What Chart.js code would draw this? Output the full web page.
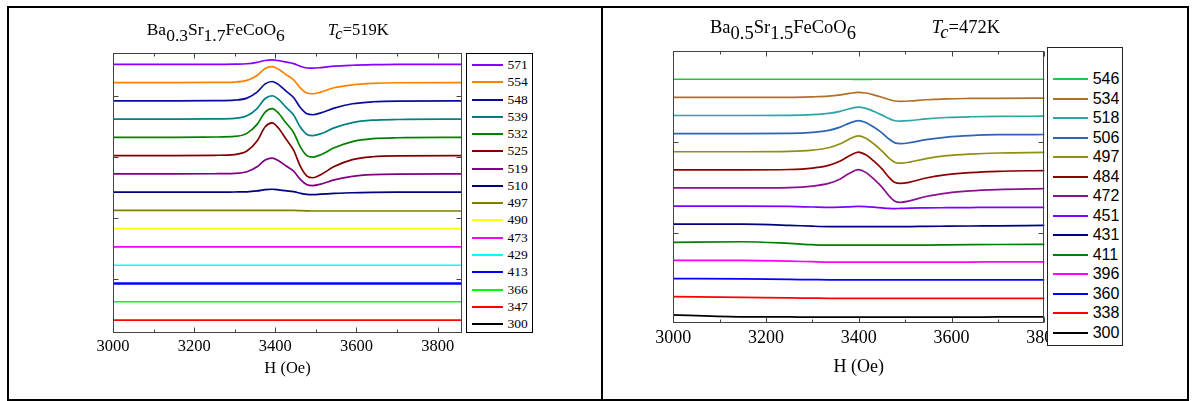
<!DOCTYPE html>
<html><head><meta charset="utf-8">
<script src="https://cdn.jsdelivr.net/npm/chart.js@4.4.1/dist/chart.umd.min.js"></script>
<style>
html,body{margin:0;padding:0;background:#fff;width:1195px;height:401px;overflow:hidden;position:relative;}
.frame{position:absolute;left:7px;top:6px;width:1182px;height:395px;border:2px solid #000;box-sizing:border-box;}
.divider{position:absolute;left:601px;top:6px;width:2px;height:395px;background:#000;}
canvas{position:absolute;}
.title{position:absolute;font-family:'Liberation Serif','Times New Roman',serif;color:#000;white-space:nowrap;}
.sub{position:relative;}
.legend{position:absolute;background:#fff;box-sizing:border-box;}
.entry{position:absolute;left:0;display:flex;align-items:center;white-space:nowrap;color:#000;}
.entry span.ln{display:inline-block;height:2px;}
</style></head>
<body>
<div class="frame"></div>
<div class="divider"></div>
<canvas id="c1" width="590" height="385" style="left:10px;top:10px;width:590px;height:385px"></canvas>
<canvas id="c2" width="580" height="385" style="left:605px;top:10px;width:580px;height:385px"></canvas>

<div class="title" style="left:146.7px;top:21.3px;font-size:17.5px;line-height:17.5px">Ba<span class="sub" style="top:5.5px">0.3</span>Sr<span class="sub" style="top:5.5px">1.7</span>FeCoO<span class="sub" style="top:5.5px">6</span></div>
<div class="title" style="left:327.7px;top:21.3px;font-size:16.5px;line-height:17.5px"><i>T</i><i class="sub" style="top:4px">c</i>=519K</div>
<div class="title" style="left:710px;top:17.5px;font-size:18.5px;line-height:18.5px">Ba<span class="sub" style="top:6px">0.5</span>Sr<span class="sub" style="top:6px">1.5</span>FeCoO<span class="sub" style="top:6px">6</span></div>
<div class="title" style="left:931.7px;top:17.5px;font-size:18.5px;line-height:18.5px"><i>T</i><i class="sub" style="top:5px">c</i>=472K</div>

<div id="leg1" class="legend" style="left:466px;top:53px;width:67px;height:280px;border:1px solid #000;"></div>
<div id="leg2" class="legend" style="left:1047px;top:47px;width:76px;height:299px;border:1px solid #222;"></div>

<script>
// ---------- LEFT PANEL: Ba0.3Sr1.7FeCoO6 ----------
const leftH = [3000, 3150, 3250, 3300, 3330, 3355, 3375, 3392, 3408, 3425, 3445, 3462, 3478, 3492, 3512, 3545, 3590, 3640, 3700, 3860];
const leftLabels = ['571','554','548','539','532','525','519','510','497','490','473','429','413','366','347','300'];
const leftColors = ['#8800ff','#ff8000','#0c0c9c','#008080','#008000','#800000','#800080','#000080','#808000','#ffff00','#ff00ff','#00ffff','#0000ff','#00ff00','#ff0000','#000000'];
const leftOffsets = [15,14,13,12,11,10,9,8,7,6,5,4,3,2,1,0];
const L571 = [0,0,0,0.01,0.03,0.11,0.21,0.24,0.2,0.13,0.04,-0.11,-0.2,-0.21,-0.18,-0.1,-0.05,-0.02,0,0];
const L554 = [0,0,0.01,0.03,0.12,0.39,0.77,0.87,0.73,0.46,0.15,-0.3,-0.57,-0.61,-0.52,-0.28,-0.12,-0.04,-0.01,0];
const L548 = [0,0,0.01,0.04,0.15,0.48,0.93,1.06,0.89,0.56,0.18,-0.38,-0.71,-0.76,-0.66,-0.4,-0.16,-0.05,-0.01,0];
const L539 = [0,0,0.01,0.04,0.18,0.58,1.13,1.28,1.08,0.68,0.22,-0.45,-0.84,-0.9,-0.8,-0.48,-0.19,-0.06,-0.02,0];
const L532 = [0,0,0.02,0.05,0.22,0.71,1.38,1.57,1.32,0.83,0.27,-0.53,-1.0,-1.08,-0.95,-0.57,-0.23,-0.07,-0.02,0];
const L525 = [0,0,0.02,0.06,0.25,0.8,1.58,1.79,1.5,0.95,0.3,-0.6,-1.12,-1.21,-1.04,-0.6,-0.22,-0.06,-0.01,0];
const L519 = [0,0,0.01,0.03,0.12,0.39,0.76,0.86,0.72,0.46,0.15,-0.31,-0.59,-0.64,-0.56,-0.33,-0.13,-0.04,-0.01,0];
const L510 = [0,0,0,0.01,0.02,0.07,0.14,0.16,0.13,0.08,0.03,-0.06,-0.12,-0.13,-0.11,-0.07,-0.03,-0.01,0,0];
const L497 = [0,0,0,0,0,0,0,0,0,0,0,-0.01,-0.02,-0.03,-0.03,-0.03,-0.03,-0.03,-0.03,-0.03];
const L490 = [0,0,0,0,0,0,0,0,0,0,0,0,0,0,0,0,0,0,0,0];
const L473 = [0,0,0,0,0,0,0,0,0,0,0,0,0,0,0,0,0,0,0,0];
const L429 = [0,0,0,0,0,0,0,0,0,0,0,0,0,0,0,0,0,0,0,0];
const L413 = [0,0,0,0,0,0,0,0,0,0,0,0,0,0,0,0,0,0,0,0];
const L366 = [0,0,0,0,0,0,0,0,0,0,0,0,0,0,0,0,0,0,0,0];
const L347 = [0,0,0,0,0,0,0,0,0,0,0,0,0,0,0,0,0,0,0,0];
const L300 = [0,0,0,0,0,0,0,0,0,0,0,0,0,0,0,0,0,0,0,0];
const leftSeries = [L571,L554,L548,L539,L532,L525,L519,L510,L497,L490,L473,L429,L413,L366,L347,L300];
const leftXTicks = [3000, 3200, 3400, 3600, 3800];
const leftXMinor = [3100, 3300, 3500, 3700];
const leftYTicks = [3.27, 6.6, 9.93, 13.27];

// ---------- RIGHT PANEL: Ba0.5Sr1.5FeCoO6 ----------
const rightH = [3000, 3150, 3250, 3300, 3335, 3360, 3380, 3399, 3415, 3432, 3450, 3465, 3478, 3490, 3510, 3545, 3590, 3640, 3700, 3800];
const rightLabels = ['546','534','518','506','497','484','472','451','431','411','396','360','338','300'];
const rightColors = ['#22c845','#b0702a','#2fa6a6','#2e64b0','#8f8f10','#8b0000','#8b108b','#8000ff','#000080','#008000','#ff00ff','#0000ff','#ff0000','#000000'];
const rightOffsets = [13,12,11,10,9,8,7,6,5,4,3,2,1,0];
const R546 = [0,0,0,0,0,0,0,-0.01,-0.01,0,0,0,0,0,0,0,0,0,0,0];
const R534 = [0,0,0,0.03,0.07,0.14,0.22,0.28,0.24,0.14,0.01,-0.12,-0.2,-0.22,-0.2,-0.13,-0.08,-0.06,-0.05,-0.04];
const R518 = [0,0,0.01,0.05,0.12,0.23,0.37,0.46,0.39,0.23,0.02,-0.17,-0.29,-0.31,-0.28,-0.19,-0.11,-0.07,-0.05,-0.04];
const R506 = [0,0,0.01,0.07,0.18,0.36,0.58,0.72,0.61,0.36,0.04,-0.3,-0.51,-0.55,-0.5,-0.33,-0.19,-0.11,-0.06,-0.05];
const R497 = [0,0,0.02,0.09,0.22,0.44,0.7,0.87,0.74,0.44,0.04,-0.35,-0.59,-0.63,-0.57,-0.38,-0.22,-0.13,-0.07,-0.04];
const R484 = [0,0,0.02,0.1,0.25,0.49,0.78,0.98,0.83,0.49,0.05,-0.41,-0.7,-0.75,-0.68,-0.45,-0.26,-0.15,-0.08,-0.04];
const R472 = [0,0,0.02,0.1,0.25,0.5,0.81,1.01,0.86,0.5,0.05,-0.43,-0.73,-0.79,-0.71,-0.47,-0.28,-0.16,-0.09,-0.04];
const R451 = [0,0,-0.02,-0.05,-0.07,-0.06,-0.04,-0.02,-0.03,-0.06,-0.1,-0.13,-0.14,-0.13,-0.11,-0.1,-0.09,-0.08,-0.07,-0.07];
const R431 = [0,0,-0.06,-0.11,-0.13,-0.13,-0.13,-0.13,-0.13,-0.13,-0.13,-0.13,-0.13,-0.13,-0.13,-0.12,-0.11,-0.1,-0.09,-0.07];
const R411 = [0,0.03,-0.06,-0.13,-0.16,-0.16,-0.16,-0.16,-0.16,-0.16,-0.16,-0.16,-0.16,-0.16,-0.16,-0.15,-0.14,-0.13,-0.12,-0.11];
const R396 = [0,0,-0.04,-0.07,-0.09,-0.09,-0.09,-0.09,-0.09,-0.09,-0.09,-0.09,-0.09,-0.09,-0.09,-0.09,-0.09,-0.09,-0.08,-0.08];
const R360 = [0,-0.02,-0.05,-0.06,-0.07,-0.07,-0.07,-0.07,-0.07,-0.07,-0.07,-0.07,-0.07,-0.07,-0.07,-0.07,-0.07,-0.07,-0.07,-0.07];
const R338 = [0,-0.04,-0.07,-0.08,-0.09,-0.09,-0.09,-0.09,-0.09,-0.09,-0.09,-0.09,-0.09,-0.09,-0.09,-0.09,-0.09,-0.09,-0.09,-0.09];
const R300 = [0,-0.11,-0.12,-0.13,-0.13,-0.13,-0.13,-0.13,-0.13,-0.13,-0.13,-0.13,-0.13,-0.13,-0.13,-0.13,-0.13,-0.13,-0.12,-0.12];
const rightSeries = [R546,R534,R518,R506,R497,R484,R472,R451,R431,R411,R396,R360,R338,R300];
const rightXTicks = [3000, 3200, 3400, 3600, 3800];
const rightXMinor = [3100, 3300, 3500, 3700];
const rightYTicks = [4.53, 9.55];

// ---------- plugin: frame + inward ticks ----------
const frameTicks = {
  id: 'frameTicks',
  afterDatasetsDraw(chart, args, o) {
    const {ctx, chartArea, scales} = chart;
    const l = Math.round(chartArea.left) + 0.5, r = Math.round(chartArea.right) - 0.5;
    const t = Math.round(chartArea.top) + 0.5, b = Math.round(chartArea.bottom) - 0.5;
    ctx.save();
    ctx.strokeStyle = o.color; ctx.lineWidth = 1;
    ctx.strokeRect(l, t, r - l, b - t);
    ctx.beginPath();
    const tick = (v, len) => {
      const px = Math.round(scales.x.getPixelForValue(v)) + 0.5;
      ctx.moveTo(px, b); ctx.lineTo(px, b - len);
      ctx.moveTo(px, t); ctx.lineTo(px, t + len);
    };
    o.major.forEach(v => tick(v, 5));
    o.minor.forEach(v => tick(v, 3));
    o.yTicks.forEach(v => {
      const py = Math.round(scales.y.getPixelForValue(v)) + 0.5;
      ctx.moveTo(l, py); ctx.lineTo(l + 5, py);
      ctx.moveTo(r, py); ctx.lineTo(r - 5, py);
    });
    ctx.stroke();
    ctx.restore();
  }
};

function buildDatasets(H, labels, colors, offsets, series, widths) {
  return labels.map((lab, i) => ({
    label: lab,
    data: H.map((h, k) => ({x: h, y: offsets[i] + series[i][k]})),
    borderColor: colors[i],
    borderWidth: widths[i] || 1.7,
    pointRadius: 0,
    fill: false,
    cubicInterpolationMode: 'monotone',
    clip: 1
  }));
}

function makeChart(id, cfg) {
  return new Chart(document.getElementById(id), {
    type: 'line',
    data: {datasets: cfg.datasets},
    options: {
      responsive: false, animation: false, devicePixelRatio: 1,
      layout: {padding: cfg.padding},
      plugins: {legend: {display: false}, tooltip: {enabled: false},
        frameTicks: {color: '#444', major: cfg.major, minor: cfg.minor, yTicks: cfg.yTicks}},
      scales: {
        x: {
          type: 'linear', min: cfg.xmin, max: cfg.xmax,
          afterBuildTicks: s => { s.ticks = cfg.major.map(v => ({value: v})); },
          afterFit: s => { s.height = cfg.axisH; },
          grid: {display: false, drawTicks: false}, border: {display: false},
          ticks: {padding: 4, autoSkip: false, maxRotation: 0, color: '#000',
            callback: v => String(v),
            font: {family: 'Liberation Serif', size: cfg.fs}},
          title: {display: true, text: 'H (Oe)', color: '#000',
            font: {family: 'Liberation Serif', size: cfg.fs}, padding: {top: 0, bottom: cfg.titlePad}}
        },
        y: {type: 'linear', min: cfg.ymin, max: cfg.ymax, display: false}
      }
    },
    plugins: [frameTicks]
  });
}

const leftWidths = leftLabels.map(l => l === '413' ? 2.6 : 1.7);
makeChart('c1', {
  datasets: buildDatasets(leftH, leftLabels, leftColors, leftOffsets, leftSeries, leftWidths),
  padding: {left: 103, right: 138, top: 43, bottom: 0},
  xmin: 3000, xmax: 3860, ymin: 0.29, ymax: 15.62,
  major: leftXTicks, minor: leftXMinor, yTicks: leftYTicks,
  axisH: 62, fs: 16.5, titlePad: 16
});
makeChart('c2', {
  datasets: buildDatasets(rightH, rightLabels, rightColors, rightOffsets, rightSeries, []),
  padding: {left: 68.3, right: 140.7, top: 41, bottom: 0},
  xmin: 3000, xmax: 3800, ymin: -0.47, ymax: 14.56,
  major: rightXTicks, minor: rightXMinor, yTicks: rightYTicks,
  axisH: 71.7, fs: 18, titlePad: 16.5
});

// ---------- HTML legends built from the same arrays ----------
function buildLegend(id, labels, colors, boxTop, firstY, step, lineX, lineW, textGap, font, size) {
  const box = document.getElementById(id);
  labels.forEach((lab, i) => {
    const cy = firstY + i * step - boxTop - 1;
    const e = document.createElement('div');
    e.className = 'entry';
    e.style.top = (cy - 8) + 'px';
    e.style.height = '16px';
    e.style.fontFamily = font;
    e.style.fontSize = size + 'px';
    const ln = document.createElement('span');
    ln.className = 'ln';
    ln.style.width = lineW + 'px';
    ln.style.marginLeft = lineX + 'px';
    ln.style.background = colors[i];
    const tx = document.createElement('span');
    tx.textContent = lab;
    tx.style.marginLeft = textGap + 'px';
    e.appendChild(ln); e.appendChild(tx);
    box.appendChild(e);
  });
}
buildLegend('leg1', leftLabels, leftColors, 53, 65, 17.27, 5, 31, 4.5, "'Liberation Serif', serif", 13.5);
buildLegend('leg2', rightLabels, rightColors, 47, 79, 19.5, 5.3, 35, 4.4, "'Liberation Sans', Arial, sans-serif", 16);
</script>
</body></html>
